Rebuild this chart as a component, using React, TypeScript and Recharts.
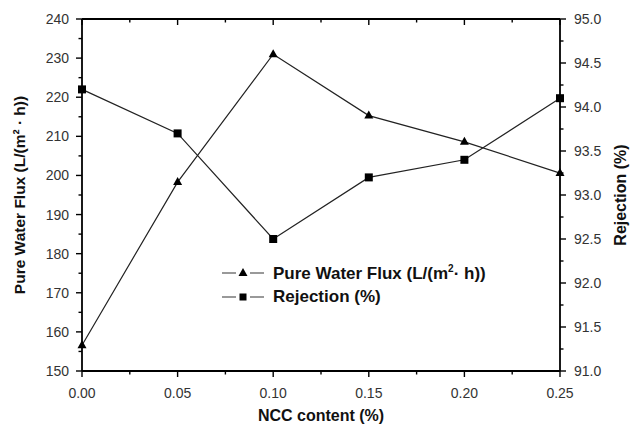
import React from 'react';
import { LineChart, Line, XAxis, YAxis } from 'recharts';

// NCC content (%) on x, two series on separate y axes
const nccContent = [0, 0.05, 0.1, 0.15, 0.2, 0.25];
const fluxValues = [156.6, 198.3, 231.0, 215.3, 208.6, 200.6];
const rejectionValues = [94.2, 93.7, 92.5, 93.2, 93.4, 94.1];

const xMajor = [0, 0.05, 0.1, 0.15, 0.2, 0.25];
const xTicks = [0, 0.025, 0.05, 0.075, 0.1, 0.125, 0.15, 0.175, 0.2, 0.225, 0.25];
const fluxMajor = [150, 160, 170, 180, 190, 200, 210, 220, 230, 240];
const fluxTicks = [150, 155, 160, 165, 170, 175, 180, 185, 190, 195, 200, 205, 210, 215, 220, 225, 230, 235, 240];
const rejMajor = [91, 91.5, 92, 92.5, 93, 93.5, 94, 94.5, 95];
const rejTicks = [91, 91.25, 91.5, 91.75, 92, 92.25, 92.5, 92.75, 93, 93.25, 93.5, 93.75, 94, 94.25, 94.5, 94.75, 95];

const data = nccContent.map((x, i) => ({ x, flux: fluxValues[i], rej: rejectionValues[i] }));

const FONT = '"Liberation Sans", Arial, sans-serif';
const TS = 6; // tickSize
const TM = 3; // tickMargin
const isMajor = (list: number[], v: number) => list.some((m) => Math.abs(m - v) < 1e-9);

const BottomTick = (p: any) => {
  const v = p.payload.value;
  const major = isMajor(xMajor, v);
  const axisY = p.y - TS - TM;
  return (
    <g>
      <line x1={p.x} x2={p.x} y1={axisY} y2={axisY + (major ? 6 : 3.5)} stroke="#000" strokeWidth={1.4} />
      {major && (
        <text x={p.x} y={axisY + 27} textAnchor="middle" fontSize={14} fill="#333" fontFamily={FONT}>
          {v.toFixed(2)}
        </text>
      )}
    </g>
  );
};

const TopTick = (p: any) => {
  const v = p.payload.value;
  const major = isMajor(xMajor, v);
  const axisY = p.y + TS + TM;
  return <line x1={p.x} x2={p.x} y1={axisY} y2={axisY + (major ? 6 : 3.5)} stroke="#000" strokeWidth={1.4} />;
};

const LeftTick = (p: any) => {
  const v = p.payload.value;
  const major = isMajor(fluxMajor, v);
  const axisX = p.x + TS + TM;
  return (
    <g>
      <line x1={axisX} x2={axisX - (major ? 6 : 3.5)} y1={p.y} y2={p.y} stroke="#000" strokeWidth={1.4} />
      {major && (
        <text x={axisX - 13} y={p.y + 5} textAnchor="end" fontSize={14} fill="#333" fontFamily={FONT}>
          {v}
        </text>
      )}
    </g>
  );
};

const RightTick = (p: any) => {
  const v = p.payload.value;
  const major = isMajor(rejMajor, v);
  const axisX = p.x - TS - TM;
  return (
    <g>
      <line x1={axisX} x2={axisX + (major ? 6 : 3.5)} y1={p.y} y2={p.y} stroke="#000" strokeWidth={1.4} />
      {major && (
        <text x={axisX + 14} y={p.y + 5} textAnchor="start" fontSize={14} fill="#333" fontFamily={FONT}>
          {v.toFixed(1)}
        </text>
      )}
    </g>
  );
};

const Triangle = (p: any) => {
  if (p.cx == null || p.cy == null) return null;
  const { cx, cy } = p;
  return <polygon points={`${cx},${cy - 5} ${cx - 4.5},${cy + 3} ${cx + 4.5},${cy + 3}`} fill="#000" />;
};

const Square = (p: any) => {
  if (p.cx == null || p.cy == null) return null;
  const { cx, cy } = p;
  return <rect x={cx - 4} y={cy - 4} width={8} height={8} fill="#000" />;
};

const LegendRow = ({ marker, label }: { marker: 'tri' | 'sq'; label: React.ReactNode }) => (
  <div style={{ display: 'flex', alignItems: 'center', height: 24 }}>
    <svg width={42} height={14}>
      <line x1={0} x2={14} y1={7} y2={7} stroke="#555" strokeWidth={1.2} />
      <line x1={28} x2={42} y1={7} y2={7} stroke="#555" strokeWidth={1.2} />
      {marker === 'tri' ? (
        <polygon points="21,2 16.5,10 25.5,10" fill="#000" />
      ) : (
        <rect x={17.5} y={3.5} width={7} height={7} fill="#000" />
      )}
    </svg>
    <span style={{ marginLeft: 9, fontFamily: FONT, fontWeight: 'bold', fontSize: 17, color: '#111', whiteSpace: 'nowrap' }}>
      {label}
    </span>
  </div>
);

export default function App() {
  return (
    <div style={{ position: 'absolute', left: 0, top: 0, width: 633, height: 424, background: '#fff', overflow: 'hidden' }}>
      <LineChart width={633} height={424} data={data} margin={{ top: 9, right: 0, bottom: 0, left: 0 }}>
        <XAxis
          xAxisId="bottom"
          dataKey="x"
          type="number"
          domain={[0, 0.25]}
          ticks={xTicks}
          interval={0}
          height={53}
          tickSize={TS}
          tickMargin={TM}
          tickLine={false}
          axisLine={{ stroke: '#000', strokeWidth: 1.8 }}
          tick={<BottomTick />}
          label={{
            content: (props: any) => {
              const vb = props.viewBox;
              return (
                <text x={vb.x + vb.width / 2} y={vb.y + 50} textAnchor="middle" fontSize={16} fontWeight="bold" fill="#111" fontFamily={FONT}>
                  NCC content (%)
                </text>
              );
            },
          }}
        />
        <XAxis
          xAxisId="top"
          orientation="top"
          dataKey="x"
          type="number"
          domain={[0, 0.25]}
          ticks={xTicks}
          interval={0}
          height={10}
          tickSize={TS}
          tickMargin={TM}
          tickLine={false}
          axisLine={{ stroke: '#000', strokeWidth: 1.8 }}
          tick={<TopTick />}
        />
        <YAxis
          yAxisId="left"
          type="number"
          domain={[150, 240]}
          ticks={fluxTicks}
          interval={0}
          width={82}
          tickSize={TS}
          tickMargin={TM}
          tickLine={false}
          axisLine={{ stroke: '#000', strokeWidth: 1.8 }}
          tick={<LeftTick />}
          label={{
            content: (props: any) => {
              const vb = props.viewBox;
              const cx = vb.x + 25;
              const cy = vb.y + vb.height / 2;
              return (
                <text x={cx} y={cy} transform={`rotate(-90 ${cx} ${cy})`} textAnchor="middle" fontSize={15.5} fontWeight="bold" fill="#111" fontFamily={FONT}>
                  Pure Water Flux (L/(m² · h))
                </text>
              );
            },
          }}
        />
        <YAxis
          yAxisId="right"
          orientation="right"
          type="number"
          domain={[91, 95]}
          ticks={rejTicks}
          interval={0}
          width={73}
          tickSize={TS}
          tickMargin={TM}
          tickLine={false}
          axisLine={{ stroke: '#000', strokeWidth: 1.8 }}
          tick={<RightTick />}
          label={{
            content: (props: any) => {
              const vb = props.viewBox;
              const cx = vb.x + 66;
              const cy = vb.y + vb.height / 2;
              return (
                <text x={cx} y={cy} transform={`rotate(-90 ${cx} ${cy})`} textAnchor="middle" fontSize={16} fontWeight="bold" fill="#111" fontFamily={FONT}>
                  Rejection (%)
                </text>
              );
            },
          }}
        />
        <Line
          xAxisId="bottom"
          yAxisId="left"
          dataKey="flux"
          stroke="#222"
          strokeWidth={1.2}
          dot={<Triangle />}
          activeDot={false}
          isAnimationActive={false}
        />
        <Line
          xAxisId="bottom"
          yAxisId="right"
          dataKey="rej"
          stroke="#222"
          strokeWidth={1.2}
          dot={<Square />}
          activeDot={false}
          isAnimationActive={false}
        />
      </LineChart>
      <div style={{ position: 'absolute', left: 222, top: 261 }}>
        <LegendRow marker="tri" label={<>Pure Water Flux (L/(m<sup style={{ fontSize: 10 }}>2</sup>· h))</>} />
        <LegendRow marker="sq" label="Rejection (%)" />
      </div>
    </div>
  );
}
